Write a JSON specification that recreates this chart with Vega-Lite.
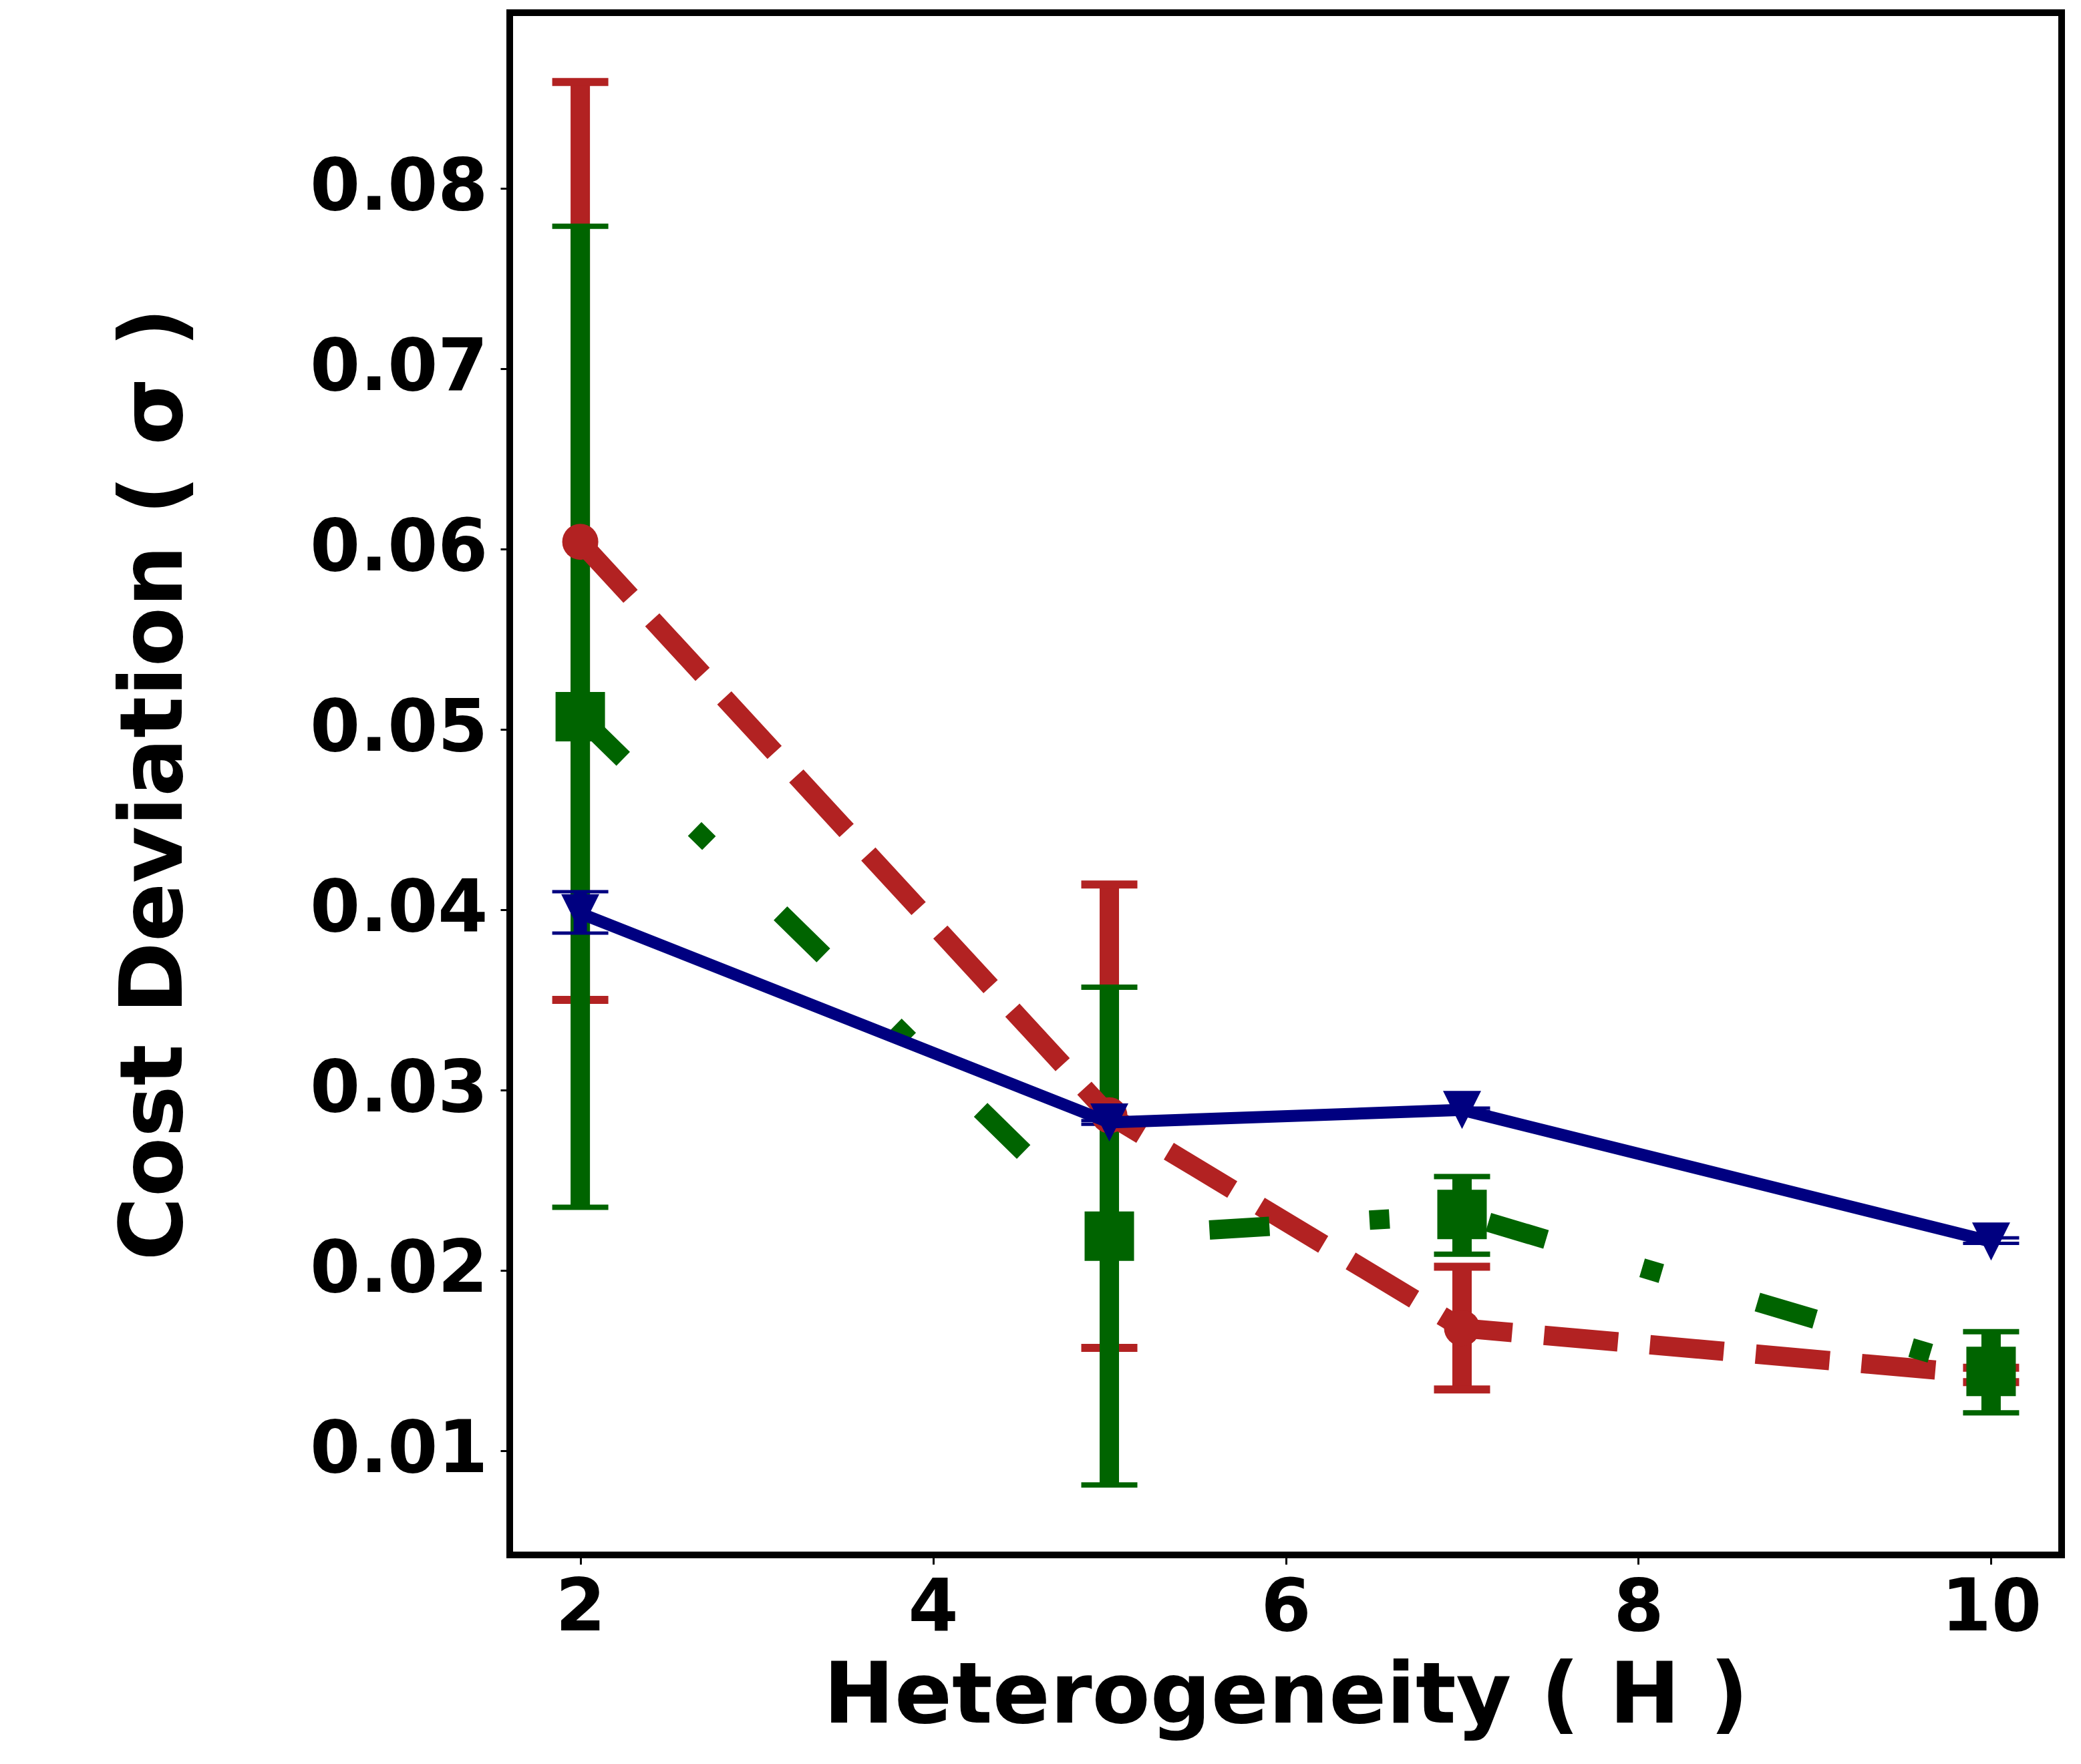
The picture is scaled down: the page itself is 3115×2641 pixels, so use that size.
{
  "$schema": "https://vega.github.io/schema/vega-lite/v6.json",
  "description": "Cost deviation vs heterogeneity, three series with error bars",
  "autosize": {"type": "none"},
  "padding": {"left": 763, "top": 19, "right": 29, "bottom": 313},
  "width": 2323,
  "height": 2309,
  "background": "white",
  "config": {
    "view": {"stroke": "black", "strokeWidth": 10},
    "axis": {
      "grid": false,
      "domain": false,
      "labelFont": "DejaVu Sans",
      "labelFontWeight": "bold",
      "labelFontSize": 108,
      "labelLimit": 0,
      "labelColor": "black",
      "tickColor": "black",
      "tickWidth": 3,
      "tickSize": 14,
      "titleFont": "DejaVu Sans",
      "titleFontWeight": "bold",
      "titleFontSize": 130,
      "titleLimit": 0,
      "titleColor": "black"
    }
  },
  "data": {
    "values": [
      {"series": "red", "h": 2, "y": 0.0604, "lo": 0.0350, "hi": 0.0859},
      {"series": "red", "h": 5, "y": 0.0286, "lo": 0.0157, "hi": 0.0414},
      {"series": "red", "h": 7, "y": 0.0168, "lo": 0.0134, "hi": 0.0202},
      {"series": "red", "h": 10, "y": 0.0142, "lo": 0.0138, "hi": 0.0146},
      {"series": "green", "h": 2, "y": 0.0507, "lo": 0.0235, "hi": 0.0779},
      {"series": "green", "h": 5, "y": 0.0219, "lo": 0.0081, "hi": 0.0357},
      {"series": "green", "h": 7, "y": 0.0231, "lo": 0.0209, "hi": 0.0252},
      {"series": "green", "h": 10, "y": 0.0144, "lo": 0.0121, "hi": 0.0166},
      {"series": "blue", "h": 2, "y": 0.0398, "lo": 0.0387, "hi": 0.0410},
      {"series": "blue", "h": 5, "y": 0.0282, "lo": 0.0281, "hi": 0.0283},
      {"series": "blue", "h": 7, "y": 0.0289, "lo": 0.0288, "hi": 0.0290},
      {"series": "blue", "h": 10, "y": 0.0216, "lo": 0.0215, "hi": 0.0218}
    ]
  },
  "encoding": {
    "x": {
      "field": "h",
      "type": "quantitative",
      "scale": {"domain": [1.6, 10.4], "nice": false, "zero": false},
      "axis": {"values": [2, 4, 6, 8, 10], "title": "Heterogeneity ( H )", "titleFontSize": 127, "labelPadding": 13, "titlePadding": 16}
    }
  },
  "layer": [
    {
      "transform": [{"filter": "datum.series === 'red'"}],
      "mark": {"type": "rule", "color": "#B22222", "strokeWidth": 29},
      "encoding": {
        "y": {
          "field": "lo",
          "type": "quantitative",
          "scale": {"domain": [0.00422, 0.08974], "nice": false, "zero": false},
          "axis": {"values": [0.01, 0.02, 0.03, 0.04, 0.05, 0.06, 0.07, 0.08], "format": ".2f", "title": "Cost Deviation ( σ )", "labelPadding": 19, "titlePadding": 265}
        },
        "y2": {"field": "hi"}
      }
    },
    {
      "transform": [{"filter": "datum.series === 'red'"}, {"fold": ["lo", "hi"], "as": ["end", "v"]}],
      "mark": {"type": "tick", "orient": "horizontal", "color": "#B22222", "size": 84, "thickness": 12, "opacity": 1},
      "encoding": {"y": {"field": "v", "type": "quantitative"}}
    },
    {
      "transform": [{"filter": "datum.series === 'green'"}],
      "mark": {"type": "rule", "color": "#006400", "strokeWidth": 29},
      "encoding": {"y": {"field": "lo", "type": "quantitative"}, "y2": {"field": "hi"}}
    },
    {
      "transform": [{"filter": "datum.series === 'green'"}, {"fold": ["lo", "hi"], "as": ["end", "v"]}],
      "mark": {"type": "tick", "orient": "horizontal", "color": "#006400", "size": 84, "thickness": 8, "opacity": 1},
      "encoding": {"y": {"field": "v", "type": "quantitative"}}
    },
    {
      "transform": [{"filter": "datum.series === 'blue'"}],
      "mark": {"type": "rule", "color": "#000080", "strokeWidth": 20},
      "encoding": {"y": {"field": "lo", "type": "quantitative"}, "y2": {"field": "hi"}}
    },
    {
      "transform": [{"filter": "datum.series === 'blue'"}, {"fold": ["lo", "hi"], "as": ["end", "v"]}],
      "mark": {"type": "tick", "orient": "horizontal", "color": "#000080", "size": 84, "thickness": 5, "opacity": 1},
      "encoding": {"y": {"field": "v", "type": "quantitative"}}
    },
    {
      "transform": [{"filter": "datum.series === 'red'"}],
      "mark": {"type": "line", "color": "#B22222", "strokeWidth": 29, "strokeDash": [111, 48], "strokeCap": "butt"},
      "encoding": {"y": {"field": "y", "type": "quantitative"}}
    },
    {
      "transform": [{"filter": "datum.series === 'red'"}],
      "mark": {"type": "point", "shape": "circle", "filled": true, "color": "#B22222", "size": 2916, "opacity": 1},
      "encoding": {"y": {"field": "y", "type": "quantitative"}}
    },
    {
      "transform": [{"filter": "datum.series === 'green'"}],
      "mark": {"type": "line", "color": "#006400", "strokeWidth": 29, "strokeDash": [90, 150, 30, 150], "strokeCap": "butt"},
      "encoding": {"y": {"field": "y", "type": "quantitative"}}
    },
    {
      "transform": [{"filter": "datum.series === 'green'"}],
      "mark": {"type": "point", "shape": "square", "filled": true, "color": "#006400", "size": 5476, "opacity": 1},
      "encoding": {"y": {"field": "y", "type": "quantitative"}}
    },
    {
      "transform": [{"filter": "datum.series === 'blue'"}],
      "mark": {"type": "line", "color": "#000080", "strokeWidth": 18},
      "encoding": {"y": {"field": "y", "type": "quantitative"}}
    },
    {
      "transform": [{"filter": "datum.series === 'blue'"}],
      "mark": {"type": "point", "shape": "M-1,-1L1,-1L0,1Z", "filled": true, "color": "#000080", "size": 3249, "opacity": 1},
      "encoding": {"y": {"field": "y", "type": "quantitative"}}
    }
  ]
}
